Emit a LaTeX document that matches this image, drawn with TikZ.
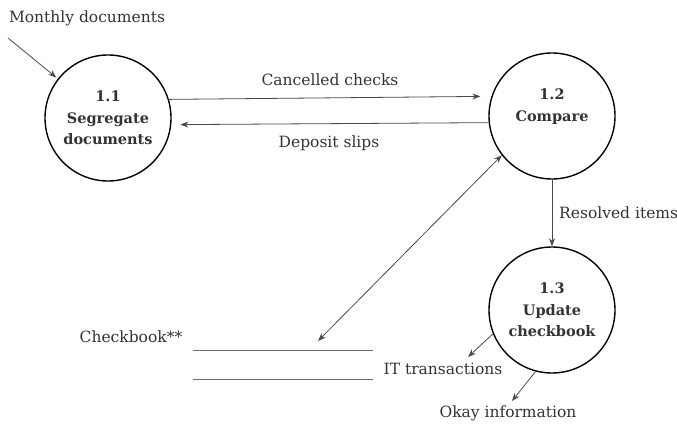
\documentclass[tikz,border=0pt]{standalone}
\usepackage{fontspec}
\setmainfont{DejaVu Serif}
\usetikzlibrary{arrows.meta}
\definecolor{ink}{HTML}{333333}
\definecolor{lin}{HTML}{4a4a4a}
\tikzset{
  proc/.style={circle, draw=black, line width=1.4pt, minimum size=126pt, inner sep=0pt,
    align=center, font=\fontsize{14.5}{21.5}\selectfont\bfseries, text=ink},
  lbl/.style={font=\fontsize{15.5}{18}\selectfont, text=ink, inner sep=1pt},
  flow/.style={draw=lin, line width=0.8pt, -{Stealth[length=8pt,width=6pt]}},
  twoway/.style={draw=lin, line width=0.8pt, {Stealth[length=8pt,width=6pt]}-{Stealth[length=8pt,width=6pt]}},
  storeline/.style={draw=lin!80, line width=1pt}
}
\begin{document}
\begin{tikzpicture}[x=1pt,y=-1pt]
\useasboundingbox (0,0) rectangle (677,425);
\node[proc] (c11) at (108,118) {1.1\\Segregate\\documents};
\node[proc] (c12) at (552,116) {1.2\\Compare\\[0pt]};
\node[proc] (c13) at (552,310) {1.3\\Update\\checkbook};
\node[lbl] (monthly) at (87,18) {Monthly documents};
\coordinate (mstart) at (8,38);
\node[lbl] (cancel) at (330,80) {Cancelled checks};
\node[lbl] (deposit) at (329,143) {Deposit slips};
\node[lbl, anchor=west] (resolved) at (558,213) {Resolved items};
\node[lbl] (checkbook) at (131,337) {Checkbook**};
\node[lbl] (itt) at (443,369) {IT transactions};
\node[lbl] (okay) at (508,413) {Okay information};
\coordinate (s1a) at (193,350); \coordinate (s1b) at (373,350);
\coordinate (s2a) at (193,379); \coordinate (s2b) at (373,379);
\coordinate (storein) at (318,341);
\coordinate (ittip) at (468,357);
\coordinate (okaytip) at (512,401);
\draw[storeline] (s1a) -- (s1b);
\draw[storeline] (s2a) -- (s2b);
\draw[flow, shorten >=2pt] (mstart) -- (c11.142);
\draw[flow, shorten >=11pt] (c11.17.6) -- (c12.162.4);
\draw[flow, shorten >=9pt] (c12.186.4) -- (c11.-6.4);
\draw[flow] (c12.south) -- (c13.north);
\draw[twoway] (storein) -- (c12.-142.6);
\draw[flow] (c13.202.6) -- (ittip);
\draw[flow] (c13.255.3) -- (okaytip);
\end{tikzpicture}
\end{document}
